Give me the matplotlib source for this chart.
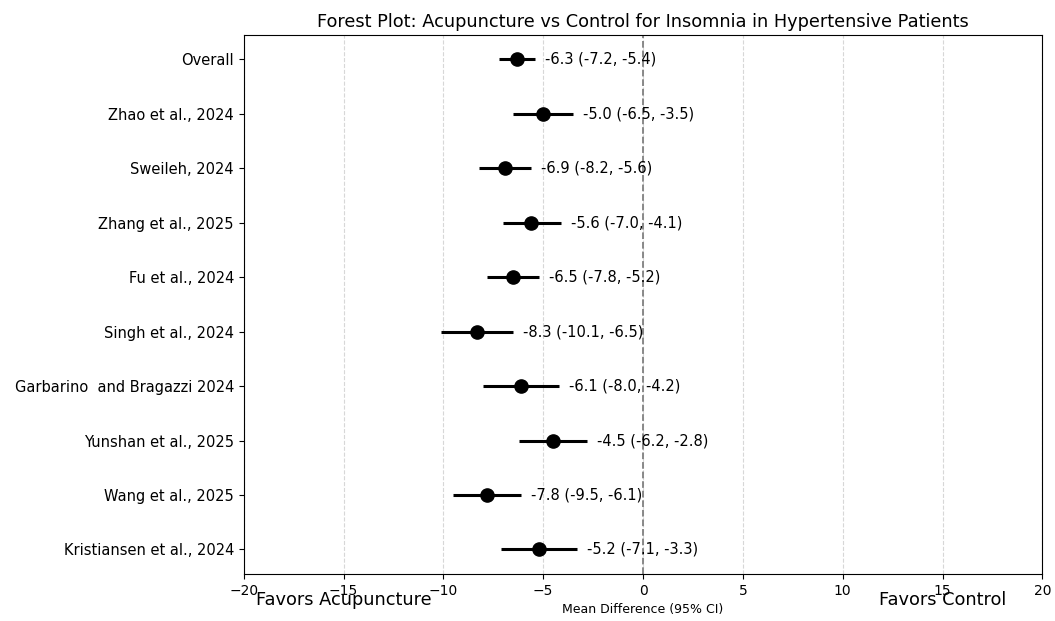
import numpy as np
import matplotlib.pyplot as plt

# study data
studies = ['Overall', 'Zhao et al., 2024', 'Sweileh, 2024', 'Zhang et al., 2025',
           'Fu et al., 2024', 'Singh et al., 2024', 'Garbarino  and Bragazzi 2024',
           'Yunshan et al., 2025', 'Wang et al., 2025', 'Kristiansen et al., 2024']
md = [-6.3, -5.0, -6.9, -5.6, -6.5, -8.3, -6.1, -4.5, -7.8, -5.2]
ci_low = [-7.2, -6.5, -8.2, -7.0, -7.8, -10.1, -8.0, -6.2, -9.5, -7.1]
ci_high = [-5.4, -3.5, -5.6, -4.1, -5.2, -6.5, -4.2, -2.8, -6.1, -3.3]

md = np.array(md)
ci_low = np.array(ci_low)
ci_high = np.array(ci_high)
ypos = np.arange(len(studies))[::-1]

fig = plt.figure(figsize=(10.55, 6.21), dpi=100)
ax = fig.add_axes([0.231, 0.0757, 0.757, 0.868])

xerr = [md - ci_low, ci_high - md]
ax.errorbar(md, ypos, xerr=xerr, fmt='o', color='black', ecolor='black',
            elinewidth=2.2, markersize=9.5, capsize=0)

# label each row with md and CI
for i in range(len(studies)):
    ax.text(ci_high[i] + 0.5, ypos[i], f'{md[i]:.1f} ({ci_low[i]:.1f}, {ci_high[i]:.1f})',
            va='center', ha='left', fontsize=10.5)

ax.axvline(0, color='gray', linestyle='--', linewidth=1.3)
ax.set_yticks(ypos)
ax.set_yticklabels(studies, fontsize=10.5)
ax.tick_params(axis='x', labelsize=10)
ax.set_xlim(-20, 20)
ax.set_ylim(-0.45, 9.45)
ax.grid(axis='x', linestyle='--', alpha=0.5)
ax.set_xlabel('Mean Difference (95% CI)', fontsize=9)
ax.set_title('Forest Plot: Acupuncture vs Control for Insomnia in Hypertensive Patients', fontsize=12.8)

ax.text(-15, -0.93, 'Favors Acupuncture', ha='center', va='center', fontsize=12.8)
ax.text(15, -0.93, 'Favors Control', ha='center', va='center', fontsize=12.8)

fig.savefig('out.png', dpi=100)
